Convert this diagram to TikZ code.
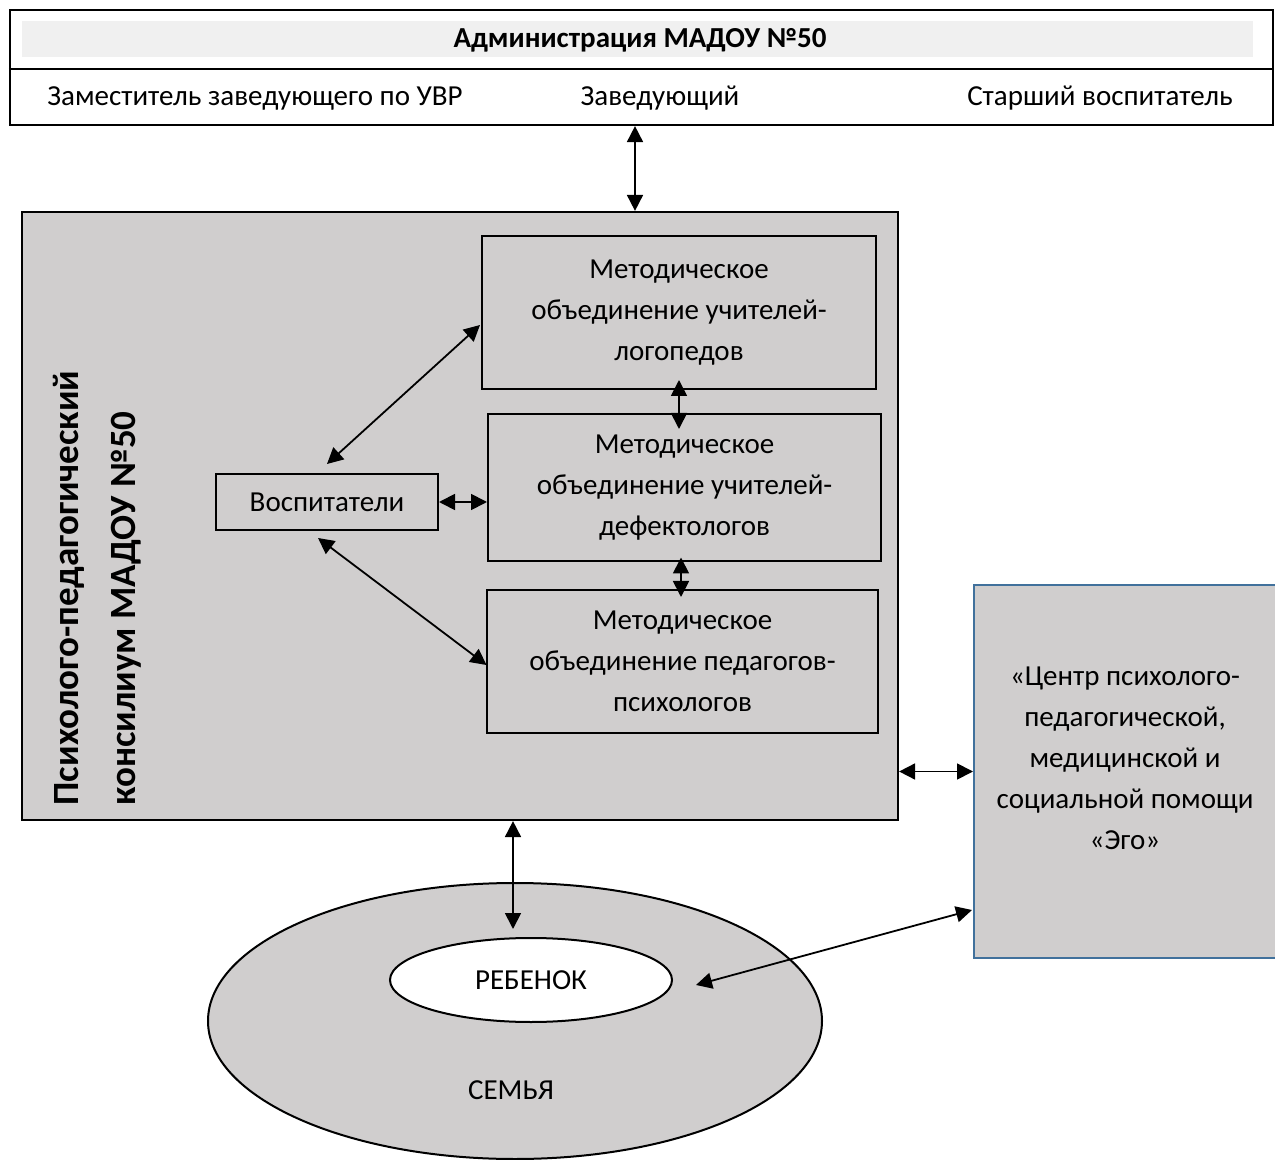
\documentclass[tikz,border=0pt]{standalone}
\usepackage{fontspec}
\setmainfont{Carlito}
\usetikzlibrary{arrows.meta, calc, shapes.geometric}
\definecolor{boxgray}{RGB}{208,206,206}
\definecolor{bandgray}{RGB}{240,240,240}
\definecolor{egoblue}{RGB}{65,113,156}

\begin{document}
\begin{tikzpicture}[x=0.5pt, y=-0.5pt,
    every node/.style={font=\fontsize{14.5}{20.5}\selectfont},
    box/.style={draw, line width=1pt, fill=boxgray, align=center, inner sep=0pt},
    arr/.style={{Triangle[length=8pt,width=8pt]}-{Triangle[length=8pt,width=8pt]}, line width=0.9pt}]
    \useasboundingbox (0,0) rectangle (1275,1160);

    \node (admin) at (641.5,67.5) [draw, line width=1.1pt, minimum width=631.5pt, minimum height=57.5pt] {};
    \fill [bandgray] (22,21) rectangle (1253,57);
    \draw [line width=1.1pt] ([yshift=-0.75pt]admin.west) -- ([yshift=-0.75pt]admin.east);
    \node (head) at (640,40) [font=\fontsize{14.5}{17}\selectfont\bfseries] {Администрация МАДОУ №50};
    \node (zam) at (255,98) {Заместитель заведующего по УВР};
    \node (zav) at (660,98) {Заведующий};
    \node (star) at (1100,98) {Старший воспитатель};

    \node (ppk) at (460,516) [box, line width=1.1pt, minimum width=438pt, minimum height=304pt] {};
    \node (ppktxt) at (97,588) [rotate=90, align=left, font=\fontsize{18.5}{28.5}\selectfont\bfseries] {Психолого-педагогический\\консилиум МАДОУ №50};
    \node (lg) at (679,312.5) [box, minimum width=197pt, minimum height=76.5pt] {Методическое\\объединение учителей-\\логопедов};
    \node (df) at (684.5,487.5) [box, minimum width=196.5pt, minimum height=73.5pt] {Методическое\\объединение учителей-\\дефектологов};
    \node (ps) at (682.5,661.5) [box, minimum width=195.5pt, minimum height=71.5pt] {Методическое\\объединение педагогов-\\психологов};
    \node (vos) at (327,502) [box, minimum width=111pt, minimum height=28pt] {Воспитатели};

    \node (ego) at (1126,771.5) [box, draw=egoblue, minimum width=152pt, minimum height=186.5pt] {};
    \node (egotxt) at (1125,758.5) [align=center] {«Центр психолого-\\педагогической,\\медицинской и\\социальной помощи\\«Эго»};

    \node (fam) at (515,1021) [ellipse, draw, line width=1pt, fill=boxgray, minimum width=307pt, minimum height=138pt, inner sep=0pt] {};
    \node (semya) at (511,1090) {СЕМЬЯ};
    \node (child) at (531,980) [ellipse, draw, line width=1pt, fill=white, minimum width=141pt, minimum height=42pt, inner sep=0pt] {РЕБЕНОК};

    \draw [arr] ($(admin.south)+(-6.5,0)$) -- ($(admin.south |- ppk.north)+(-6.5,0)$);
    \draw [arr] ($(vos.north)+(0,-9)$) -- ($(lg.west)+(-1,12.5)$);
    \draw [arr] (vos.east) -- (vos.east -| df.west);
    \draw [arr] ($(vos.south)+(-9,7)$) -- ($(ps.west)+(0.5,3.5)$);
    \draw [arr] ($(lg.south)+(0,-10)$) -- ($(lg.south |- df.north)+(0,16)$);
    \draw [arr] ($(ps.north |- df.south)+(-1.5,-4.5)$) -- ($(ps.north)+(-1.5,8)$);
    \draw [arr] (ego.west -| ppk.east) -- (ego.west);
    \draw [arr] ($(fam.north |- ppk.south)+(-2,0)$) -- ($(fam.north |- child.north)+(-2,-8)$);
    \draw [arr] ($(ego.west)+(-1,138.5)$) -- ($(child.east)+(23,5)$);
\end{tikzpicture}
\end{document}
